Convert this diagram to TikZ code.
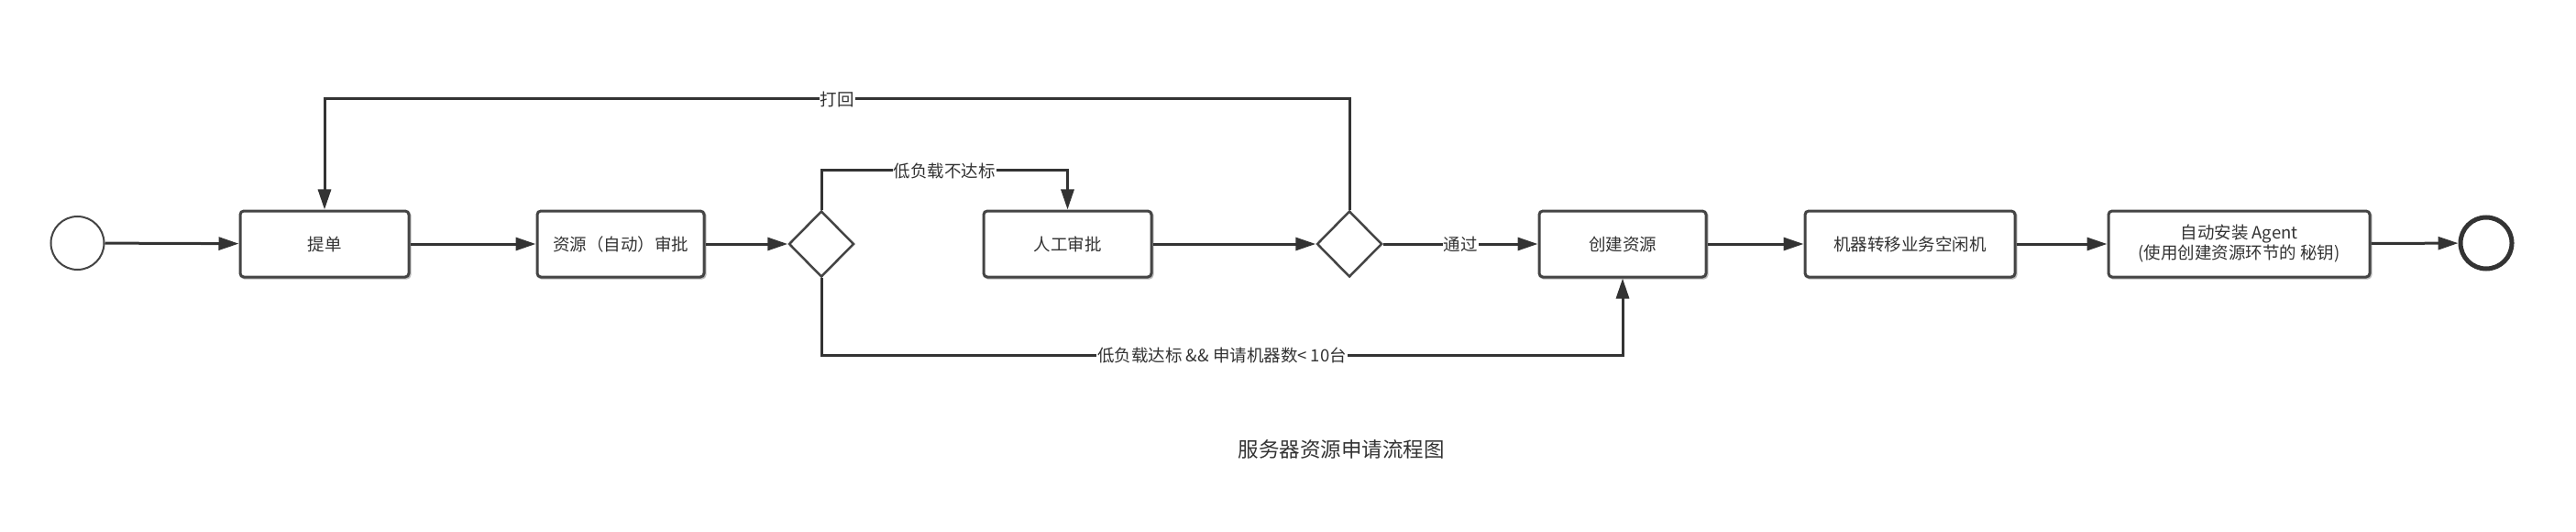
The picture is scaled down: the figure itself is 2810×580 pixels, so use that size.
\documentclass[tikz,border=0pt]{standalone}
\usepackage{fontspec}
\setmainfont{Noto Sans CJK SC}
\usetikzlibrary{arrows.meta,shapes.geometric}
\definecolor{ln}{HTML}{333333}
\definecolor{bd}{HTML}{444444}
\definecolor{tx}{HTML}{333333}
\begin{document}
\begin{tikzpicture}[x=1pt,y=-1pt,
  every node/.style={font=\fontsize{18.5}{22}\selectfont,text=tx},
  actbox/.style={draw=bd,line width=3pt,rounded corners=4pt,fill=white,
    minimum height=72pt,inner sep=0pt,align=center,
    preaction={draw=black!25,line width=3pt,rounded corners=4pt,transform canvas={xshift=1.2pt,yshift=-1.2pt}}},
  gate/.style={draw=bd,line width=2.5pt,diamond,minimum width=71pt,minimum height=72pt,inner sep=0pt,fill=white},
  flow/.style={draw=ln,line width=3pt,-{Triangle[length=22pt,width=14pt]}},
  lbl/.style={fill=white,inner sep=1pt}]
\useasboundingbox (0,0) rectangle (2810,580);
\node[circle,draw=bd,line width=2pt,minimum size=58pt,inner sep=0pt] (start) at (84.5,265) {};
\node[actbox,minimum width=184pt] (tidan) at (354,266) {提单};
\node[actbox,minimum width=182pt] (zdsp) at (677,266) {资源（自动）审批};
\node[gate] (d1) at (896,266) {};
\node[actbox,minimum width=183pt] (rgsp) at (1164.5,266) {人工审批};
\node[gate] (d2) at (1472,266) {};
\node[actbox,minimum width=182pt] (cjzy) at (1770,266) {创建资源};
\node[actbox,minimum width=229pt] (jqzy) at (2083.5,266) {机器转移业务空闲机};
\node[actbox,minimum width=285pt] (agent) at (2442.5,266) {自动安装 Agent\\(使用创建资源环节的 秘钥)};
\node[circle,draw=ln,line width=5pt,minimum size=56pt,inner sep=0pt] (end) at (2712,265) {};
\coordinate (topy) at (0,108);
\coordinate (midy) at (0,186);
\coordinate (boty) at (0,387);
\draw[flow] (start) -- (tidan);
\draw[flow] (tidan) -- (zdsp);
\draw[flow] (zdsp) -- (d1);
\draw[flow] (d1.north) -- (d1.north |- midy) -- node[lbl]{低负载不达标} (rgsp.north |- midy) -- (rgsp.north);
\draw[flow] (rgsp) -- (d2);
\draw[flow] (d2) -- node[lbl]{通过} (cjzy);
\draw[flow] (d2.north) -- (d2.north |- topy) -- node[lbl]{打回} (tidan.north |- topy) -- (tidan.north);
\draw[flow] (d1.south) -- (d1.south |- boty) -- node[lbl]{低负载达标 \&\& 申请机器数< 10台} (cjzy.south |- boty) -- (cjzy.south);
\draw[flow] (cjzy) -- (jqzy);
\draw[flow] (jqzy) -- (agent);
\draw[flow] (agent) -- (end);
\node[font=\fontsize{22.5}{26}\selectfont] (title) at (1463,490) {服务器资源申请流程图};
\end{tikzpicture}
\end{document}
